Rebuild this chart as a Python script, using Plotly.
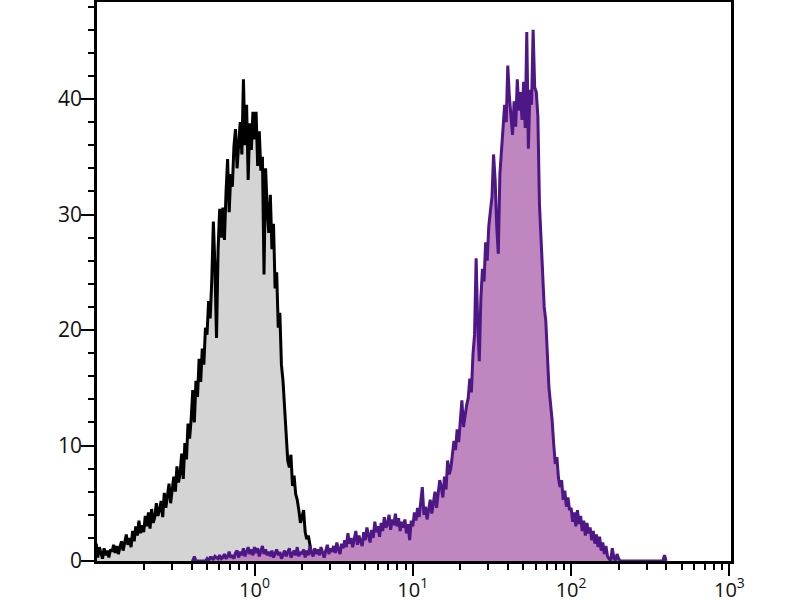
import numpy as np
import plotly.graph_objects as go

# Channel bins (log10 units), 0.01 decade wide
gray_log_start = -1.00
purple_log_start = -0.40
bin_step = 0.01

# Control (gray) histogram counts
gray_counts = [
    1.5, 0.3, 1.2, 0.6, 0.2, 1.1, 0.5, 0.9, 0.3, 1.0,
    0.8, 1.4, 0.7, 1.3, 0.6, 1.2, 1.7, 0.9, 1.6, 2.3,
    1.4, 2.0, 1.2, 2.6, 1.7, 3.0, 2.2, 3.5, 2.4, 3.1,
    2.5, 3.9, 3.0, 4.2, 2.8, 4.5, 3.3, 3.8, 5.0, 3.9,
    4.4, 5.2, 3.8, 5.9, 4.6, 5.5, 6.7, 5.0, 6.2, 7.3,
    6.0, 8.2, 6.8, 7.6, 9.3, 7.1, 10.2, 8.8, 11.9, 10.6,
    12.3, 14.8, 12.0, 15.6, 14.2, 17.5, 15.5, 18.4, 17.0, 20.2,
    19.6, 22.5, 21.0, 24.3, 29.4, 25.5, 19.3, 27.0, 30.5, 28.0,
    30.6, 27.8, 31.9, 34.8, 30.2, 33.5, 32.4, 35.9, 37.4, 34.0,
    36.1, 38.0, 35.2, 41.7, 36.0, 39.5, 33.0, 37.9, 35.6, 38.9,
    36.5, 38.9, 34.2, 37.2, 33.8, 35.0, 24.8, 34.0, 30.5, 28.4,
    31.7, 27.0, 29.2, 23.6, 25.0, 20.2, 21.5, 17.0, 15.6, 13.5,
    11.0, 8.7, 8.1, 9.2, 6.5, 7.4, 5.8, 5.3, 4.4, 3.3,
    3.8, 4.4, 2.5, 1.9, 2.2, 1.2, 0.6, 0.2, 0.0,
]

# Stained (purple) histogram counts
purple_counts = [
    0.0, 0.0, 0.4, 0.0, 0.0, 0.0, 0.0, 0.0, 0.0, 0.0,
    0.2, 0.0, 0.3, 0.3, 0.1, 0.4, 0.3, 0.2, 0.5, 0.2,
    0.3, 0.6, 0.2, 0.4, 0.8, 0.3, 0.5, 0.2, 0.7, 0.9,
    0.3, 0.8, 0.5, 1.1, 0.4, 0.9, 1.2, 0.6, 1.0, 0.5,
    1.2, 0.7, 1.1, 0.4, 0.9, 1.3, 0.6, 1.0, 0.5, 0.8,
    0.4, 0.9, 0.3, 0.7, 1.0, 0.5, 0.8, 0.2, 0.6, 0.9,
    0.4, 0.7, 1.1, 0.3, 0.6, 0.9, 0.5, 1.2, 0.4, 0.8,
    0.6, 1.0, 0.3, 0.9, 0.5, 1.3, 0.7, 0.4, 1.1, 0.6,
    1.0, 0.5, 1.2, 0.7, 0.3, 0.9, 1.4, 0.6, 1.1, 0.8,
    1.3, 0.7, 1.6, 1.0, 0.6, 1.5, 1.1, 1.8, 1.2, 2.4,
    1.5, 2.0, 1.2, 1.9, 2.6, 1.4, 2.2, 1.7, 1.3, 2.5,
    1.8, 2.9, 2.2, 1.6, 2.7, 2.0, 3.4, 2.5, 3.0, 2.1,
    3.3, 2.6, 3.8, 2.9, 3.2, 4.0, 2.7, 3.6, 3.1, 4.1,
    3.0, 3.7, 2.6, 3.4, 2.9, 3.6, 2.4, 3.2, 1.8, 3.5,
    3.0, 4.2, 3.5, 4.6, 3.8, 5.1, 6.4, 4.0, 4.7, 3.6,
    4.4, 5.3, 4.1, 4.9, 6.0, 4.6, 5.7, 7.0, 6.4, 5.5,
    7.3, 6.2, 8.7, 7.5, 8.0, 9.4, 10.4, 9.6, 11.4, 10.3,
    12.0, 13.9, 11.6, 12.8, 13.5, 14.1, 15.8, 14.6, 17.9, 19.6,
    26.2, 20.5, 17.3, 22.8, 25.3, 24.2, 27.6, 26.0, 29.0, 30.3,
    31.5, 35.2, 33.0, 29.0, 26.6, 33.5, 35.8, 37.2, 39.5, 38.0,
    42.9, 40.2, 38.4, 36.9, 39.8, 37.6, 41.7, 39.0, 40.6, 38.2,
    41.5, 37.5, 45.8, 35.7, 40.8, 39.5, 46.0, 41.0, 40.6, 38.5,
    30.9, 27.5, 24.8, 22.0, 20.8, 17.5, 15.0, 13.6, 12.2, 10.1,
    8.4, 9.0, 7.2, 6.4, 7.0, 5.3, 6.1, 4.7, 5.5, 4.4,
    4.6, 3.4, 4.2, 3.0, 4.4, 3.2, 3.9, 2.6, 3.5, 2.2,
    3.3, 2.4, 2.9, 1.8, 2.6, 1.5, 2.3, 1.2, 2.1, 0.9,
    1.6, 0.6, 1.3, 0.4, 0.2, 0.0, 1.1, 0.3, 0.0, 0.6,
    0.2, 0.0, 0.0, 0.0, 0.0, 0.0, 0.0, 0.0, 0.0, 0.0,
    0.0, 0.0, 0.0, 0.0, 0.0, 0.0, 0.0, 0.0, 0.0, 0.0,
    0.0, 0.0, 0.0, 0.0, 0.0, 0.0, 0.0, 0.0, 0.0, 0.5, 0.0,
]

x_tick_vals = [1, 10, 100, 1000]
x_tick_text = ["10<sup>0</sup>", "10<sup>1</sup>", "10<sup>2</sup>", "10<sup>3</sup>"]
y_tick_vals = [0, 10, 20, 30, 40]

gray_x = 10 ** (gray_log_start + bin_step * np.arange(len(gray_counts)))
purple_x = 10 ** (purple_log_start + bin_step * np.arange(len(purple_counts)))

minor_x = [m * 10 ** k for k in range(-1, 3) for m in range(2, 10)]

fig = go.Figure()
fig.add_trace(go.Scatter(
    x=gray_x, y=gray_counts, mode="lines", fill="tozeroy",
    fillcolor="#d4d4d4", line=dict(color="#000000", width=3),
    showlegend=False, hoverinfo="skip",
))
fig.add_trace(go.Scatter(
    x=purple_x, y=purple_counts, mode="lines", fill="tozeroy",
    fillcolor="#c086c0", line=dict(color="#4e1786", width=3),
    showlegend=False, hoverinfo="skip",
))

tick_font = dict(family="Open Sans", size=21, color="#111111")
x_tick_font = dict(family="Open Sans", size=20, color="#111111")

fig.update_layout(
    width=800, height=600,
    margin=dict(l=97, r=69, t=2, b=39),
    paper_bgcolor="white", plot_bgcolor="white",
    font=dict(family="Open Sans", size=21, color="#111111"),
    showlegend=False,
)
fig.update_xaxes(
    type="log", range=[-0.995, 3.01], automargin=False,
    tickmode="array", tickvals=x_tick_vals, ticktext=x_tick_text,
    tickfont=x_tick_font, ticklabelstandoff=-3,
    ticks="outside", ticklen=12, tickwidth=2, tickcolor="black",
    showline=True, linecolor="black", linewidth=2.5, mirror=True,
    showgrid=False, zeroline=False,
    minor=dict(tickvals=minor_x, ticks="outside", ticklen=6, tickwidth=2,
               tickcolor="black", showgrid=False),
)
fig.update_yaxes(
    range=[0, 48.4], automargin=False,
    tickmode="array", tickvals=y_tick_vals, ticktext=[str(v) for v in y_tick_vals],
    tickfont=tick_font, ticklabelstandoff=-5,
    ticks="outside", ticklen=13, tickwidth=2, tickcolor="black",
    showline=True, linecolor="black", linewidth=2.5, mirror=True,
    showgrid=False, zeroline=False,
    minor=dict(dtick=2, ticks="outside", ticklen=6, tickwidth=2,
               tickcolor="black", showgrid=False),
)

fig.write_html(
    "out.html",
    config={"displayModeBar": False},
    post_script="document.body.style.margin='0';",
)
